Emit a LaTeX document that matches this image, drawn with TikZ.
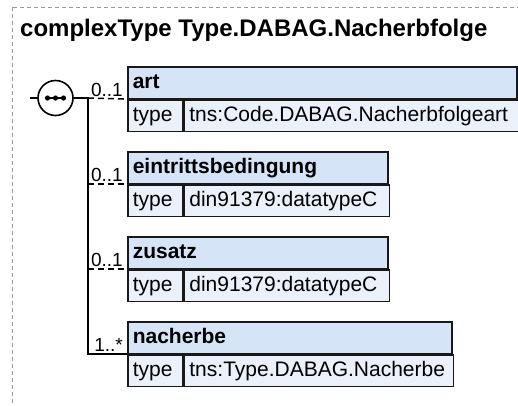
\documentclass[tikz,border=0pt]{standalone}
\usepackage{fontspec}
\setmainfont{Liberation Sans}
\usetikzlibrary{positioning}

\definecolor{hdrblue}{HTML}{D6E4F8}
\definecolor{rowblue}{HTML}{EAF1FB}
\definecolor{framegray}{HTML}{9A9A9A}

\tikzset{
    frame/.style={draw=framegray, line width=1pt, dash pattern=on 4pt off 3pt},
    cell/.style={draw=black!90, line width=1.6pt, minimum height=31.5pt,
        inner xsep=5pt, inner ysep=0pt, text height=16pt, text depth=4pt,
        align=left, font=\fontsize{21}{25}\selectfont},
    elname/.style={cell, fill=hdrblue, font=\fontsize{21}{25}\selectfont\bfseries,
        anchor=north west, text width=#1},
    elrow/.style={cell, fill=rowblue, text width=#1},
    seqnode/.style={circle, draw=black, line width=1.6pt, fill=white,
        minimum size=35pt, inner sep=0pt},
    link/.style={line width=1.5pt, black},
    optlink/.style={link, dash pattern=on 6pt off 4pt},
    card/.style={font=\fontsize{19}{22}\selectfont, anchor=base east, inner sep=0pt},
    title/.style={font=\fontsize{24}{29}\selectfont\bfseries, anchor=base west, inner sep=0pt},
}
\newcommand{\seqdot}[1]{\fill[black] #1 circle (2.6pt);}

\begin{document}
\begin{tikzpicture}[x=1pt, y=-1pt]

    \path[use as bounding box, clip] (0,0) rectangle (518,405);
    \draw[frame] (12,7) rectangle (540,430);

    \node[title] (title) at (20,36) {complexType Type.DABAG.Nacherbfolge};

    % sequence compositor
    \coordinate (in) at (30,98);
    \coordinate (spine) at (88,98);
    \node[seqnode] (seq) at (55.5,98) {};
    \draw[link] ([xshift=-9pt]seq.center) -- ([xshift=9pt]seq.center);
    \foreach \dx in {-8,0,8} {\seqdot{([xshift=\dx pt]seq.center)}}

    % element art
    \node[elname=379pt] (art) at (127,66) {art};
    \node[elrow=45pt, below right=0pt and 0pt of art.south west] (art-t) {type};
    \node[elrow=324pt, right=0pt of art-t] (art-v) {tns:Code.DABAG.Nacherbfolgeart};

    % element eintrittsbedingung
    \node[elname=250pt] (eintritt) at (127,151) {eintrittsbedingung};
    \node[elrow=45pt, below right=0pt and 0pt of eintritt.south west] (eintritt-t) {type};
    \node[elrow=195pt, right=0pt of eintritt-t] (eintritt-v) {din91379:datatypeC};

    % element zusatz
    \node[elname=250pt] (zusatz) at (127,236) {zusatz};
    \node[elrow=45pt, below right=0pt and 0pt of zusatz.south west] (zusatz-t) {type};
    \node[elrow=195pt, right=0pt of zusatz-t] (zusatz-v) {din91379:datatypeC};

    % element nacherbe
    \node[elname=314pt] (nacherbe) at (127,321) {nacherbe};
    \node[elrow=45pt, below right=0pt and 0pt of nacherbe.south west] (nacherbe-t) {type};
    \node[elrow=259pt, right=0pt of nacherbe-t] (nacherbe-v) {tns:Type.DABAG.Nacherbe};

    % connectors
    \draw[link] (in) -- (seq.west);
    \draw[link] (seq.east) -- (spine) -- (spine |- nacherbe.south west) -- (nacherbe.south west);
    \draw[optlink] (spine) -- (art.south west);
    \draw[optlink] (spine |- eintritt.south west) -- (eintritt.south west);
    \draw[optlink] (spine |- zusatz.south west) -- (zusatz.south west);

    % cardinalities
    \node[card, xshift=-4pt, yshift=3pt] (art-card) at (art.south west) {0..1};
    \node[card, xshift=-4pt, yshift=3pt] (eintritt-card) at (eintritt.south west) {0..1};
    \node[card, xshift=-4pt, yshift=3pt] (zusatz-card) at (zusatz.south west) {0..1};
    \node[card, xshift=-4pt, yshift=3pt] (nacherbe-card) at (nacherbe.south west) {1..*};

\end{tikzpicture}
\end{document}
